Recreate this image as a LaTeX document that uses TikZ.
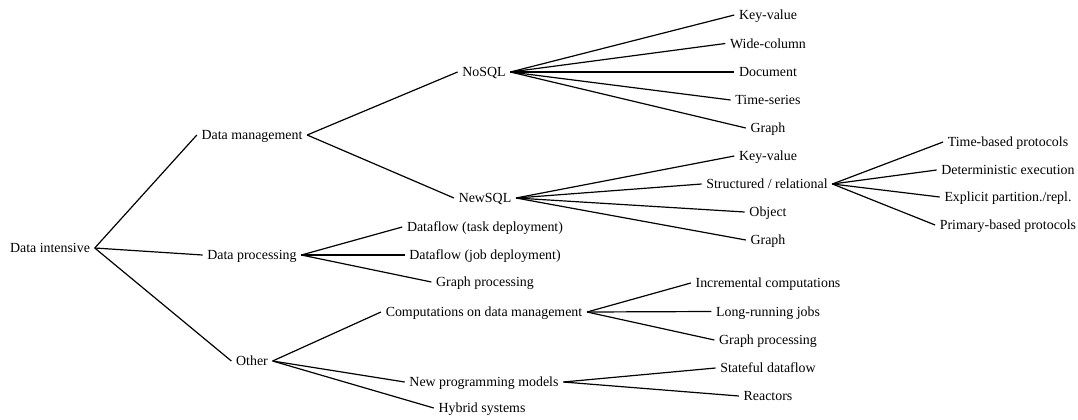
\documentclass[tikz,border=0pt]{standalone}
\usepackage{fontspec}
\setmainfont{Liberation Serif}
\begin{document}
\begin{tikzpicture}[x=0.5pt,y=-0.5pt,
  lbl/.style={anchor=mid,inner xsep=2.2pt,inner ysep=1pt,font=\fontsize{6.95}{8}\selectfont},
  edge/.style={line width=0.6pt,black}]
\useasboundingbox (0,0) rectangle (1078,419);
% level 0
\node[lbl] (di) at (50,248) {Data intensive};
% level 1
\node[lbl] (dm) at (252,135) {Data management};
\node[lbl] (dp) at (252,255) {Data processing};
\node[lbl] (ot) at (252,361) {Other};
% level 2
\node[lbl] (nosql) at (484,72) {NoSQL};
\node[lbl] (newsql) at (485,198) {NewSQL};
\node[lbl] (dft) at (485,227) {Dataflow (task deployment)};
\node[lbl] (dfj) at (485,255) {Dataflow (job deployment)};
\node[lbl] (gp) at (485,282) {Graph processing};
\node[lbl] (comp) at (484,312) {Computations on data management};
\node[lbl] (npm) at (484,382) {New programming models};
\node[lbl] (hyb) at (482,408) {Hybrid systems};
% level 3: NoSQL
\node[lbl] (kv1) at (768,15) {Key-value};
\node[lbl] (wc) at (768,43.5) {Wide-column};
\node[lbl] (doc) at (768,72) {Document};
\node[lbl] (ts) at (768,100) {Time-series};
\node[lbl] (gr1) at (768,128) {Graph};
% level 3: NewSQL
\node[lbl] (kv2) at (768,156) {Key-value};
\node[lbl] (sr) at (767,184) {Structured / relational};
\node[lbl] (obj) at (768,212) {Object};
\node[lbl] (gr2) at (768,240) {Graph};
% level 3: computations
\node[lbl] (inc) at (768,283) {Incremental computations};
\node[lbl] (lrj) at (768,311.5) {Long-running jobs};
\node[lbl] (gp2) at (768,340) {Graph processing};
% level 3: new programming models
\node[lbl] (sdf) at (768,368) {Stateful dataflow};
\node[lbl] (rea) at (768,396) {Reactors};
% level 4
\node[lbl] (tb) at (1008,142) {Time-based protocols};
\node[lbl] (de) at (1008,170) {Deterministic execution};
\node[lbl] (ep) at (1008,197) {Explicit partition./repl.};
\node[lbl] (pb) at (1008,225) {Primary-based protocols};
% edges
\foreach \p/\c in {di/dm,di/dp,di/ot,
  dm/nosql,dm/newsql,dp/dft,dp/dfj,dp/gp,ot/comp,ot/npm,ot/hyb,
  nosql/kv1,nosql/wc,nosql/doc,nosql/ts,nosql/gr1,
  newsql/kv2,newsql/sr,newsql/obj,newsql/gr2,
  comp/inc,comp/lrj,comp/gp2,npm/sdf,npm/rea,
  sr/tb,sr/de,sr/ep,sr/pb}
  \draw[edge] (\p.mid east) -- (\c.mid west);
\end{tikzpicture}
\end{document}
